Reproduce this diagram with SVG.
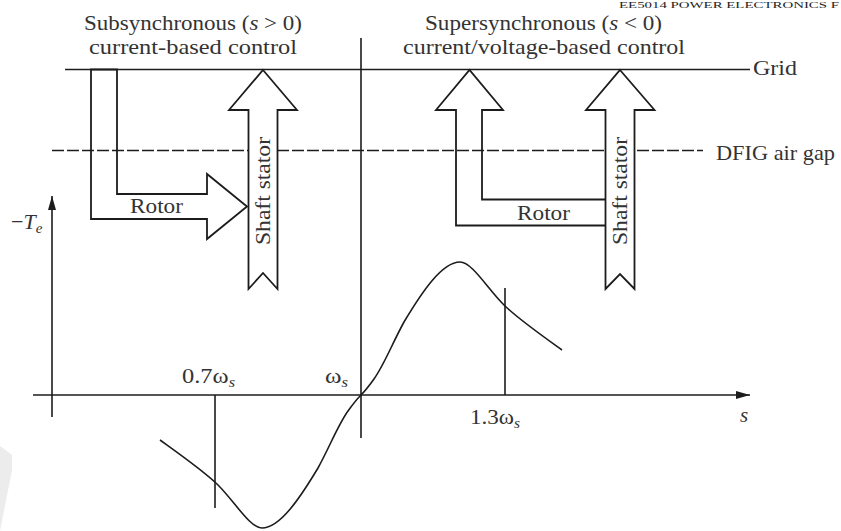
<svg xmlns="http://www.w3.org/2000/svg" width="841" height="531" viewBox="0 0 841 531">
<style>
.ln{stroke:#1c1c1c;stroke-width:1.6;fill:none}
.ar{stroke:#1c1c1c;stroke-width:1.8;fill:none;stroke-linejoin:miter}
.arw{stroke:#1c1c1c;stroke-width:1.8;fill:#fff;stroke-linejoin:miter}
.t{font-family:"Liberation Serif","Times New Roman",serif;font-size:22px;fill:#333}
.m{font-family:"Liberation Serif","Times New Roman",serif;font-size:21px;fill:#333}
.i{font-style:italic}
</style>
<defs>
<marker id="ah" viewBox="0 0 14 8" refX="14" refY="4" markerWidth="14" markerHeight="8" markerUnits="userSpaceOnUse" orient="auto">
<path d="M0,0 L14,4 L0,8 Z" fill="#1c1c1c"/>
</marker>
</defs>
<rect width="841" height="531" fill="#fff"/>
<polygon points="0,446 12,455 12,470 0,531" fill="#ececec"/>
<text x="619" y="8" font-family="Liberation Serif,serif" font-size="9" fill="#222" textLength="220" lengthAdjust="spacingAndGlyphs">EE5014 POWER ELECTRONICS F</text>

<g id="titles">
<text class="t" x="84" y="30" textLength="218" lengthAdjust="spacingAndGlyphs">Subsynchronous (<tspan class="i">s</tspan> &gt; 0)</text>
<text class="t" x="89" y="54" textLength="208" lengthAdjust="spacingAndGlyphs">current-based control</text>
<text class="t" x="425" y="30" textLength="237" lengthAdjust="spacingAndGlyphs">Supersynchronous (<tspan class="i">s</tspan> &lt; 0)</text>
<text class="t" x="403" y="54" textLength="282" lengthAdjust="spacingAndGlyphs">current/voltage-based control</text>
</g>

<g id="connectors">
<line id="grid-line" class="ln" x1="65" y1="69.5" x2="750" y2="69.5"/>
<line id="airgap-line" class="ln" x1="52" y1="150.5" x2="703" y2="150.5" stroke-dasharray="12 3"/>
<line id="sync-line" class="ln" x1="361" y1="38" x2="361" y2="438"/>
<line id="tick-07" class="ln" x1="215" y1="395" x2="215" y2="508"/>
<line id="tick-13" class="ln" x1="505" y1="288" x2="505" y2="395"/>
<line id="y-axis" class="ln" x1="52" y1="417" x2="52" y2="196" marker-end="url(#ah)"/>
<line id="x-axis" class="ln" x1="33" y1="395" x2="750" y2="395" marker-end="url(#ah)"/>
</g>

<g id="grid-label"><text class="t" x="753" y="75" textLength="44" lengthAdjust="spacingAndGlyphs">Grid</text></g>
<g id="airgap-label"><text class="t" x="716" y="160" textLength="119" lengthAdjust="spacingAndGlyphs">DFIG air gap</text></g>

<g id="rotor-sub">
<path class="ar" d="M91,69.5 L117,69.5 L117,194 L207,194 L207,174 L247,206.5 L207,239 L207,219 L91,219 Z"/>
<text class="t" x="130" y="213" textLength="53" lengthAdjust="spacingAndGlyphs">Rotor</text>
</g>

<g id="shaft-sub">
<path class="arw" d="M263,70 L297,110 L277.5,110 L277.5,289 L263,273 L248.5,289 L248.5,110 L229,110 Z"/>
<text class="t" transform="translate(270,191) rotate(-90)" text-anchor="middle" textLength="108" lengthAdjust="spacingAndGlyphs">Shaft stator</text>
</g>

<g id="rotor-super">
<path class="ar" d="M605.5,199.5 L482,199.5 L482,110 L503,110 L469.5,70 L436,110 L456,110 L456,225.5 L605.5,225.5"/>
<text class="t" x="517" y="220" textLength="53" lengthAdjust="spacingAndGlyphs">Rotor</text>
</g>

<g id="shaft-super">
<path class="arw" d="M620,70 L654.5,110 L634.5,110 L634.5,289 L620,274 L605.5,289 L605.5,110 L586,110 Z"/>
<text class="t" transform="translate(627,191) rotate(-90)" text-anchor="middle" textLength="108" lengthAdjust="spacingAndGlyphs">Shaft stator</text>
</g>

<g id="curve">
<path class="ln" stroke-width="2" d="M160,440 C185,458 205,472 218,485 C235,502 250,528 262,528 C280,528 300,498 318,468 C330,446 338,425 348,411 C353,404 357,399 361,395 C365,391 369,386 374,379 C384,365 392,344 404,322 C422,292 442,262 460,262 C472,262 487,288 504,305 C517,318 537,332 562,350"/>
</g>

<g id="axis-labels">
<text class="t" x="11" y="229">−<tspan class="i">T</tspan><tspan class="i" font-size="15" dy="4">e</tspan></text>
<text class="m" x="182" y="383" textLength="53" lengthAdjust="spacingAndGlyphs">0.7ω<tspan font-size="14" dy="4" class="i">s</tspan></text>
<text class="m" x="325" y="383" textLength="23" lengthAdjust="spacingAndGlyphs">ω<tspan font-size="14" dy="4" class="i">s</tspan></text>
<text class="m" x="470" y="424" textLength="50" lengthAdjust="spacingAndGlyphs">1.3ω<tspan font-size="14" dy="4" class="i">s</tspan></text>
<text class="m i" x="740" y="422">s</text>
</g>
</svg>
